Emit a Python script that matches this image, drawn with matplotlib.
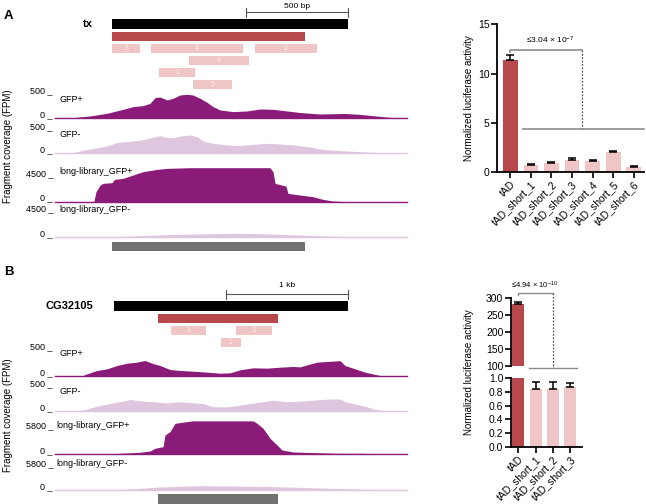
import matplotlib
matplotlib.use('Agg')
import matplotlib.pyplot as plt
import numpy as np

W, H = 646, 504
plt.rcParams['font.family'] = ['Liberation Sans', 'DejaVu Sans']
plt.rcParams['mathtext.fontset'] = 'custom'
plt.rcParams['mathtext.rm'] = 'Liberation Sans'
plt.rcParams['mathtext.it'] = 'Liberation Sans:italic'
plt.rcParams['mathtext.bf'] = 'Liberation Sans:bold'

DARK = '#8a1b78'
LIGHT = '#dfc6df'
RED = '#b7484c'
PINK = '#efc5c5'
GRAY = '#717171'

# ---------------- Panel A : genome annotation (bp) ----------------
A_region = [0, 1718]
A_gene_name = 'tx'
A_gene = [280, 1431]
A_tad = [280, 1220]
A_scale = [931, 1431]
A_scale_label = '500 bp'
A_short_names = ['3', '4', '2', '6', '1', '5']
A_short_start = [280, 468, 976, 654, 508, 673]
A_short_end = [415, 917, 1279, 947, 683, 864]
A_short_row = [2, 2, 2, 3, 4, 5]

# coverage tracks (FPM)
A_gfpp_pos = [0, 88, 171, 254, 332, 381, 429, 464, 488, 512, 547, 576, 610, 644, 673, 708,
              742, 771, 805, 869, 937, 1000, 1064, 1132, 1196, 1293, 1415, 1488, 1537, 1635, 1718]
A_gfpp_val = [0, 14, 49, 104, 187, 243, 264, 312, 430, 444, 382, 416, 486, 500, 486, 416,
              333, 243, 174, 139, 153, 194, 187, 153, 120, 90, 100, 83, 60, 20, 0]
A_gfpm_pos = [0, 88, 122, 171, 254, 303, 351, 415, 478, 512, 547, 576, 625, 659, 693, 722,
              771, 839, 903, 966, 1035, 1098, 1161, 1230, 1308, 1391, 1488, 1586, 1718]
A_gfpm_val = [0, 14, 49, 90, 153, 229, 243, 270, 333, 368, 326, 326, 368, 382, 347, 257,
              208, 174, 160, 187, 208, 194, 174, 140, 80, 55, 35, 14, 0]
A_longp_pos = [0, 171, 190, 200, 220, 234, 278, 290, 332, 381, 429, 498, 547, 659, 1049,
               1064, 1074, 1127, 1137, 1196, 1259, 1308, 1357, 1420, 1718]
A_longp_val = [0, 20, 60, 1800, 3000, 3300, 3420, 4020, 4200, 4800, 5400, 5820, 6000, 6120, 6120,
               5400, 3300, 2820, 1500, 1200, 900, 420, 120, 30, 20]
A_longm_pos = [0, 171, 268, 366, 512, 708, 888, 1049, 1196, 1391, 1586, 1718]
A_longm_val = [0, 0, 50, 200, 450, 600, 720, 600, 400, 150, 50, 0]

# ---------------- Panel B : genome annotation (bp) ----------------
B_region = [0, 2886]
B_gene_name = 'CG32105'
B_gene = [484, 2403]
B_tad = [845, 1826]
B_scale = [1403, 2403]
B_scale_label = '1 kb'
B_short_names = ['1', '3', '2']
B_short_start = [949, 1484, 1359]
B_short_end = [1236, 1779, 1525]
B_short_row = [2, 2, 3]

B_gfpp_pos = [0, 230, 262, 344, 426, 508, 590, 672, 738, 795, 861, 943, 1025, 1132, 1246, 1353,
              1435, 1517, 1624, 1738, 1845, 1952, 2009, 2066, 2148, 2230, 2337, 2378, 2460, 2542,
              2665, 2886]
B_gfpp_val = [0, 0, 31, 93, 123, 185, 228, 247, 278, 228, 185, 111, 93, 80, 62, 43,
              49, 105, 142, 136, 154, 167, 160, 197, 247, 259, 275, 185, 123, 62,
              0, 0]
B_gfpm_pos = [0, 205, 230, 344, 451, 558, 615, 697, 804, 918, 1025, 1132, 1214, 1296, 1410, 1517,
              1656, 1788, 1902, 2009, 2116, 2230, 2337, 2378, 2444, 2501, 2558, 2624, 2706, 2886]
B_gfpm_val = [0, 0, 12, 86, 136, 179, 210, 185, 167, 148, 167, 148, 136, 74, 74, 105,
              154, 197, 167, 179, 197, 216, 220, 167, 136, 105, 74, 25, 0, 0]
B_longp_pos = [0, 369, 533, 697, 779, 820, 886, 902, 943, 984, 1082, 1132, 1624, 1656, 1706,
               1763, 1820, 1861, 1952, 2116, 2337, 2501, 2665, 2886]
B_longp_val = [20, 30, 230, 460, 770, 1390, 1780, 4480, 5260, 7190, 7580, 7760, 7760, 7190, 6030,
               3710, 2160, 1000, 540, 390, 230, 230, 150, 60]
B_longm_pos = [0, 369, 533, 697, 861, 1189, 1517, 1763, 2009, 2255, 2501, 2747, 2886]
B_longm_val = [0, 0, 150, 400, 700, 1000, 900, 800, 600, 400, 200, 80, 0]

track_names = ['GFP+', 'GFP-', 'long-library_GFP+', 'long-library_GFP-']

# ---------------- luciferase bar data ----------------
A_bar_labels = ['tAD', 'tAD_short_1', 'tAD_short_2', 'tAD_short_3', 'tAD_short_4',
                'tAD_short_5', 'tAD_short_6']
A_bar_means = [11.4, 0.74, 0.9, 1.25, 1.08, 1.99, 0.54]
A_bar_err = [0.5, 0.08, 0.1, 0.2, 0.15, 0.18, 0.12]
A_pval = r'≤3.04 × 10$^{-7}$'

B_bar_labels = ['tAD', 'tAD_short_1', 'tAD_short_2', 'tAD_short_3']
B_bar_means = [282, 0.84, 0.84, 0.87]
B_bar_err = [6, 0.1, 0.1, 0.06]
B_pval = r'≤4.94 × 10$^{-10}$'

# ================================================================
fig = plt.figure(figsize=(W / 100, H / 100), dpi=100)


def ax_px(x0, y0, x1, y1):
    return fig.add_axes([x0 / W, 1 - y1 / H, (x1 - x0) / W, (y1 - y0) / H])


def ftext(x, y, s, **kw):
    fig.text(x / W, 1 - y / H, s, **kw)


TX0, TX1 = 55, 407


def annotation(y_gene, region, gene, gene_name, tad, scale, scale_label, label_row,
               names, starts, ends, rows):
    # row r is centred at y_gene + 12*r pixels
    top, bot = y_gene - 24.3, y_gene + 72
    ax = ax_px(TX0, top, TX1, bot)
    ax.set_xlim(region)
    ax.set_ylim((bot - y_gene) / 12.0, (top - y_gene) / 12.0)
    ax.axis('off')
    ax.barh(0, gene[1] - gene[0], left=gene[0], height=0.84, color='black')
    ax.barh(1, tad[1] - tad[0], left=tad[0], height=0.8, color=RED)
    for n, s, e, r in zip(names, starts, ends, rows):
        ax.barh(r, e - s, left=s, height=0.78, color=PINK)
        ax.text((s + e) / 2, r, n, color='white', alpha=0.75, fontsize=5,
                ha='center', va='center')
    ax.plot(scale, [-1, -1], color='#555555', lw=0.8)
    for xx in scale:
        ax.plot([xx, xx], [-1.35, -0.65], color='#555555', lw=0.8)
    ax.text(np.mean(scale), label_row, scale_label, fontsize=6, ha='center', va='center')
    ftext(93, y_gene, gene_name, fontsize=8, fontweight='bold', ha='right', va='center')


def track(base, label_off, label_val, pos, vals, color, region, h=36):
    ax = ax_px(TX0, base - h, TX1, base)
    ax.fill_between(pos, vals, 0, color=color, lw=0)
    ax.axhline(0, color=color, lw=1.0, clip_on=False)
    ax.set_xlim(region)
    ax.set_ylim(0, label_val * h / label_off)
    ax.axis('off')
    return ax


def gray_bar(y0, y1, region, tad):
    ax = ax_px(TX0, y0, TX1, y1)
    ax.barh(0, tad[1] - tad[0], left=tad[0], height=1.0, color=GRAY)
    ax.set_xlim(region)
    ax.set_ylim(-0.5, 0.5)
    ax.axis('off')


# ---------------- Panel A genome ----------------
ftext(4, 16, 'A', fontsize=9.5, fontweight='bold', va='center', ha='left')
annotation(24.3, A_region, A_gene, A_gene_name, A_tad, A_scale, A_scale_label, -1.5,
           A_short_names, A_short_start, A_short_end, A_short_row)

A_tracks = [
    (118.3, 24, 500, A_gfpp_pos, A_gfpp_val, DARK, 91, 115, 99),
    (153.3, 24, 500, A_gfpm_pos, A_gfpm_val, LIGHT, 127, 150, 135),
    (201.7, 25, 4500, A_longp_pos, A_longp_val, DARK, 174, 198, 172),
    (237.3, 25, 4500, A_longm_pos, A_longm_val, LIGHT, 209, 234, 209),
]
for (base, off, v, p, vals, c, ytop, ybot, yname), name in zip(A_tracks, track_names):
    track(base, off, v, p, vals, c, A_region)
    ftext(53, ytop, f'{v} _', fontsize=6.5, ha='right', va='center')
    ftext(53, ybot, '0 _', fontsize=6.5, ha='right', va='center')
    ftext(59, yname, name, fontsize=6.5, ha='left', va='center')
gray_bar(241.5, 251, A_region, A_tad)
ftext(8, 146, 'Fragment coverage (FPM)', fontsize=7, rotation=90, ha='center', va='center')

# ---------------- Panel B genome ----------------
ftext(4, 272, 'B', fontsize=9.5, fontweight='bold', va='center', ha='left')
annotation(306.3, B_region, B_gene, B_gene_name, B_tad, B_scale, B_scale_label, -1.7,
           B_short_names, B_short_start, B_short_end, B_short_row)

B_tracks = [
    (375.5, 27, 500, B_gfpp_pos, B_gfpp_val, DARK, 347, 373, 354),
    (410.8, 27, 500, B_gfpm_pos, B_gfpm_val, LIGHT, 384, 408, 392),
    (454.3, 25, 5800, B_longp_pos, B_longp_val, DARK, 426, 451, 426),
    (490.0, 25, 5800, B_longm_pos, B_longm_val, LIGHT, 464, 487, 464),
]
for (base, off, v, p, vals, c, ytop, ybot, yname), name in zip(B_tracks, track_names):
    track(base, off, v, p, vals, c, B_region)
    ftext(53, ytop, f'{v} _', fontsize=6.5, ha='right', va='center')
    ftext(53, ybot, '0 _', fontsize=6.5, ha='right', va='center')
    ftext(59 if v == 500 else 56, yname, name, fontsize=6.5, ha='left', va='center')
gray_bar(494, 504, B_region, B_tad)
ftext(8, 415, 'Fragment coverage (FPM)', fontsize=7, rotation=90, ha='center', va='center')


# ---------------- bar chart helpers ----------------
def style_axes(ax, bottom=True):
    for s in ['top', 'right']:
        ax.spines[s].set_visible(False)
    ax.spines['left'].set_linewidth(1.3)
    ax.spines['bottom'].set_linewidth(1.3)
    if not bottom:
        ax.spines['bottom'].set_visible(False)
    ax.tick_params(axis='both', direction='out', length=4, width=1.2, labelsize=7.5, pad=1.5)


# ---------------- Panel A bars ----------------
axA = ax_px(497, 24.3, 644, 172)
xA = np.arange(len(A_bar_labels))
axA.bar(xA, A_bar_means, width=0.72, color=[RED] + [PINK] * (len(xA) - 1))
axA.errorbar(xA, A_bar_means, yerr=[np.zeros(len(xA)), A_bar_err], fmt='none',
             ecolor='black', elinewidth=1.1, capsize=3, capthick=1.1)
axA.set_xlim(-0.65, 6.5)
axA.set_ylim(0, 15)
axA.set_yticks([0, 5, 10, 15])
axA.set_xticks(xA)
axA.set_xticklabels(A_bar_labels, rotation=45, ha='right', rotation_mode='anchor', fontsize=7)
style_axes(axA)
axA.set_ylabel('Normalized luciferase activity', fontsize=7, labelpad=3)
yb, yl = 12.4, 4.33
axA.plot([0, 0, 3.5], [yb - 0.25, yb, yb], color='#8c8c8c', lw=1.2, clip_on=False)
axA.plot([3.5, 3.5], [yb, yl], color='#555555', lw=0.9, ls=(0, (1.5, 1.2)), clip_on=False)
axA.plot([0.62, 6.5], [yl, yl], color='#8c8c8c', lw=1.2, clip_on=False)
axA.text(1.95, yb + 0.35, A_pval, fontsize=6, ha='center', va='bottom')

# ---------------- Panel B bars (broken axis) ----------------
xB = np.arange(len(B_bar_labels))
colsB = [RED] + [PINK] * (len(xB) - 1)
axBu = ax_px(511, 298.3, 581.7, 366)
axBl = ax_px(511, 378.3, 581.7, 446.7)
for ax in (axBu, axBl):
    ax.bar(xB, B_bar_means, width=0.69, color=colsB)
    ax.errorbar(xB, B_bar_means, yerr=[np.zeros(len(xB)), B_bar_err], fmt='none',
                ecolor='black', elinewidth=1.1, capsize=3, capthick=1.1)
    ax.set_xlim(-0.43, 3.65)
axBu.set_ylim(100, 300)
axBu.set_yticks([100, 150, 200, 250, 300])
axBu.set_xticks([])
style_axes(axBu, bottom=False)
axBl.set_ylim(0, 1.0)
axBl.set_yticks([0, 0.2, 0.4, 0.6, 0.8, 1.0])
axBl.set_yticklabels(['0.0', '0.2', '0.4', '0.6', '0.8', '1.0'])
axBl.set_xticks(xB)
axBl.set_xticklabels(B_bar_labels, rotation=45, ha='right', rotation_mode='anchor', fontsize=7)
style_axes(axBl)
ftext(469, 372, 'Normalized luciferase activity', fontsize=7, rotation=90, ha='center', va='center')
yb, yl = 314.8, 95
axBu.plot([0, 0, 2.01], [yb - 5, yb, yb], color='#8c8c8c', lw=1.0, clip_on=False)
axBu.plot([2.01, 2.01], [yb, yl], color='#555555', lw=0.9, ls=(0, (1.5, 1.2)), clip_on=False)
axBu.plot([0.62, 3.36], [yl, yl], color='#8c8c8c', lw=1.0, clip_on=False)
axBu.text(0.95, yb + 6, B_pval, fontsize=5.5, ha='center', va='bottom')

fig.savefig('out.png', dpi=100)
